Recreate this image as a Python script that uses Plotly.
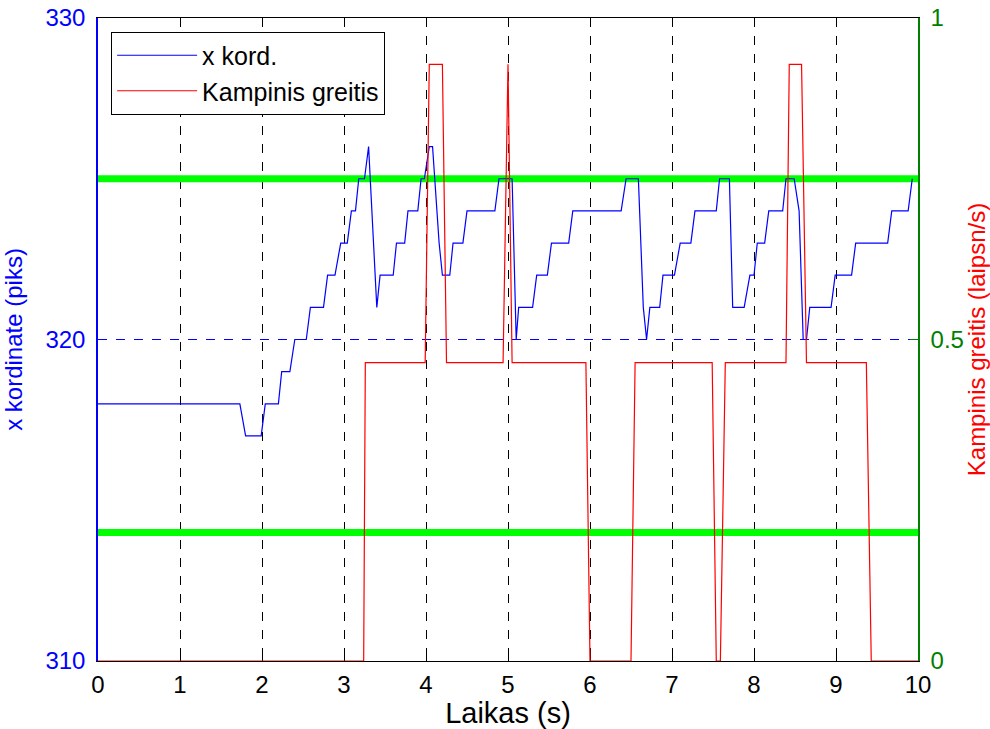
import plotly.graph_objects as go

# x coordinate of the tracked object (pixels) over time (s)
t_x = [0, 1.73, 1.80, 1.99, 2.04, 2.20, 2.24, 2.34, 2.40, 2.54, 2.59, 2.75, 2.80, 2.89,
       2.96, 3.04, 3.09, 3.14, 3.18, 3.25, 3.30, 3.40, 3.44, 3.60, 3.64, 3.74, 3.78, 3.90,
       3.94, 3.98, 4.04, 4.08, 4.16, 4.20, 4.29, 4.33, 4.45, 4.50, 4.84, 4.89, 5.05, 5.10,
       5.13, 5.30, 5.35, 5.48, 5.53, 5.74, 5.79, 6.38, 6.44, 6.59, 6.65, 6.69, 6.73, 6.85,
       6.89, 7.03, 7.10, 7.23, 7.28, 7.54, 7.58, 7.70, 7.74, 7.88, 7.95, 8.00, 8.04, 8.13,
       8.18, 8.35, 8.39, 8.49, 8.55, 8.60, 8.64, 8.68, 8.94, 8.99, 9.19, 9.24, 9.63, 9.68,
       9.88, 9.93]
x_kord = [318, 318, 317, 317, 318, 318, 319, 319, 320, 320, 321, 321, 322, 322,
          323, 323, 324, 324, 325, 325, 326, 321, 322, 322, 323, 323, 324, 324,
          325, 325, 326, 326, 323, 322, 322, 323, 323, 324, 324, 325, 325, 320,
          321, 321, 322, 322, 323, 323, 324, 324, 325, 325, 321, 320, 321, 321,
          322, 322, 323, 323, 324, 324, 325, 325, 321, 321, 322, 322, 323, 323,
          324, 324, 325, 325, 324, 320, 320, 321, 321, 322, 322, 323, 323, 324,
          324, 325]

# angular speed command (laipsn/s) over time (s)
t_w = [0, 3.24, 3.26, 3.99, 4.04, 4.20, 4.25, 4.94, 5.00, 5.05, 5.95, 6.00, 6.50, 6.55,
       7.49, 7.54, 7.59, 7.65, 8.39, 8.43, 8.58, 8.64, 9.37, 9.43, 10.0]
kampinis = [0, 0, 0.464, 0.464, 0.928, 0.928, 0.464, 0.464, 0.928, 0.464, 0.464, 0, 0, 0.464,
            0.464, 0, 0, 0.464, 0.464, 0.928, 0.928, 0.464, 0.464, 0, 0]

# dead-zone limits on the x coordinate (pixels)
riba_apatine = 314
riba_virsutine = 325

x_ticks = list(range(0, 11))
y_left_ticks = [310, 320, 330]
y_right_ticks = [0, 0.5, 1]
y_right_text = ["0", "0.5", "1"]

FONT = "Liberation Sans, Arial, sans-serif"
FS = 24
BLUE = "#0000FF"
RED = "#FF0000"
LIME = "#00FF00"
DKGREEN = "#008000"

fig = go.Figure()

for lim in (riba_apatine, riba_virsutine):
    fig.add_trace(go.Scatter(x=[0, 10], y=[lim, lim], mode="lines",
                             line=dict(color=LIME, width=7), showlegend=False,
                             hoverinfo="skip", yaxis="y"))

fig.add_trace(go.Scatter(x=t_x, y=x_kord, mode="lines", name="x kord.",
                         line=dict(color=BLUE, width=1.2), yaxis="y"))
fig.add_trace(go.Scatter(x=t_w, y=kampinis, mode="lines", name="Kampinis greitis",
                         line=dict(color=RED, width=1.2), yaxis="y2"))

fig.update_layout(
    width=990, height=729,
    margin=dict(l=98, r=72, t=18, b=68),
    paper_bgcolor="white", plot_bgcolor="white",
    font=dict(family=FONT, size=FS, color="black"),
    xaxis=dict(range=[0, 10], tickvals=x_ticks, ticks="inside", ticklen=8,
               tickcolor="black", showline=True, linecolor="black", linewidth=1,
               mirror="ticks", showgrid=True, gridcolor="black", griddash="dash",
               gridwidth=1, zeroline=False, layer="below traces", automargin=False,
               ticklabelstandoff=2,
               title=dict(text="Laikas (s)", standoff=6),
               tickfont=dict(size=FS, color="black")),
    yaxis=dict(range=[310, 330], tickvals=y_left_ticks, ticks="inside", ticklen=8,
               tickcolor=BLUE, showline=True, linecolor=BLUE, linewidth=1.5,
               showgrid=True, gridcolor=BLUE, griddash="dash", gridwidth=1,
               zeroline=False, ticklabelstandoff=6, automargin=False,
               tickfont=dict(size=FS, color=BLUE),
               title=dict(text="x kordinate (piks)", font=dict(color=BLUE, size=FS),
                          standoff=18)),
    yaxis2=dict(range=[0, 1], tickvals=y_right_ticks, ticktext=y_right_text,
                overlaying="y", side="right", ticks="inside", ticklen=8,
                tickcolor=DKGREEN, showline=True, linecolor=DKGREEN, linewidth=1.5,
                showgrid=False, zeroline=False, ticklabelstandoff=6, automargin=False,
                tickfont=dict(size=FS, color=DKGREEN),
                title=dict(text="Kampinis greitis (laipsn/s)",
                           font=dict(color=RED, size=FS), standoff=12)),
    legend=dict(x=0.016, y=0.979, xanchor="left", yanchor="top",
                bgcolor="white", bordercolor="black", borderwidth=1,
                font=dict(size=25, color="black"), itemwidth=80,
                tracegroupgap=0),
    showlegend=True,
)

fig.write_html("out.html")
